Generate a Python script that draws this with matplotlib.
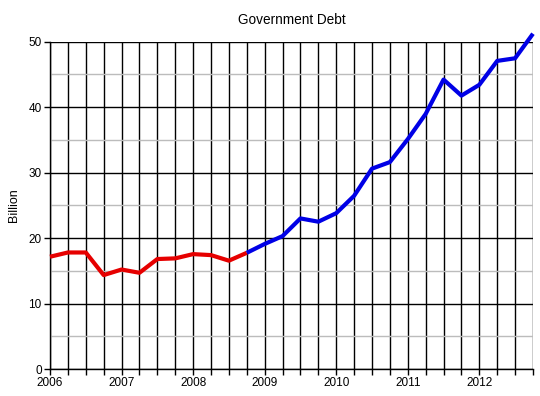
import numpy as np
from matplotlib import pyplot as plt
from matplotlib.ticker import MultipleLocator

plt.rcParams['font.family'] = ['Liberation Sans', 'DejaVu Sans']

# quarterly values, billion
quarters = np.arange(2006, 2013, 0.25)
debt = [17.15, 17.8, 17.8, 14.35, 15.2, 14.7, 16.8, 16.9, 17.55, 17.4, 16.55, 17.75,
        19.1, 20.3, 23.0, 22.5, 23.8, 26.45, 30.6, 31.6, 35.1, 38.95, 44.2, 41.75,
        43.4, 47.05, 47.45, 51.2]
split = 11  # last red point (index), blue continues from here
years = list(range(2006, 2013))

fig = plt.figure('debt', figsize=(5.4, 3.96), dpi=100)
plt.subplots_adjust(left=0.0926, right=0.987, top=0.895, bottom=0.068)
ax = fig.add_subplot(111)

ax.set_xlim(quarters[0], quarters[-1])
ax.set_ylim(0, 50)

ax.set_xticks(quarters, minor=True)
ax.set_xticks(years)
ax.set_xticklabels([str(y) for y in years])
ax.yaxis.set_major_locator(MultipleLocator(10))
ax.yaxis.set_minor_locator(MultipleLocator(5))

ax.grid(which='minor', axis='y', color='#bcbcbc', lw=1)
ax.grid(which='major', axis='y', color='black', lw=1)
ax.grid(which='both', axis='x', color='black', lw=1)
ax.set_axisbelow(True)

for s in ['top', 'right']:
    ax.spines[s].set_visible(False)
for s in ['left', 'bottom']:
    ax.spines[s].set_linewidth(1)

ax.tick_params(axis='both', which='major', labelsize=8.5, length=4, width=1, pad=2)
ax.tick_params(axis='x', which='minor', length=4, width=1)
ax.tick_params(axis='y', which='minor', length=0)

ax.plot(quarters[:split + 1], debt[:split + 1], color='#e60000', lw=3, solid_capstyle='butt', clip_on=False, zorder=3)
ax.plot(quarters[split:], debt[split:], color='#0000e6', lw=3, solid_capstyle='butt', clip_on=False, zorder=3)

ax.set_title('Government Debt', fontsize=9.8, pad=13)
ax.set_ylabel('Billion', fontsize=9, labelpad=6)

fig.savefig('out.png', dpi=100)
